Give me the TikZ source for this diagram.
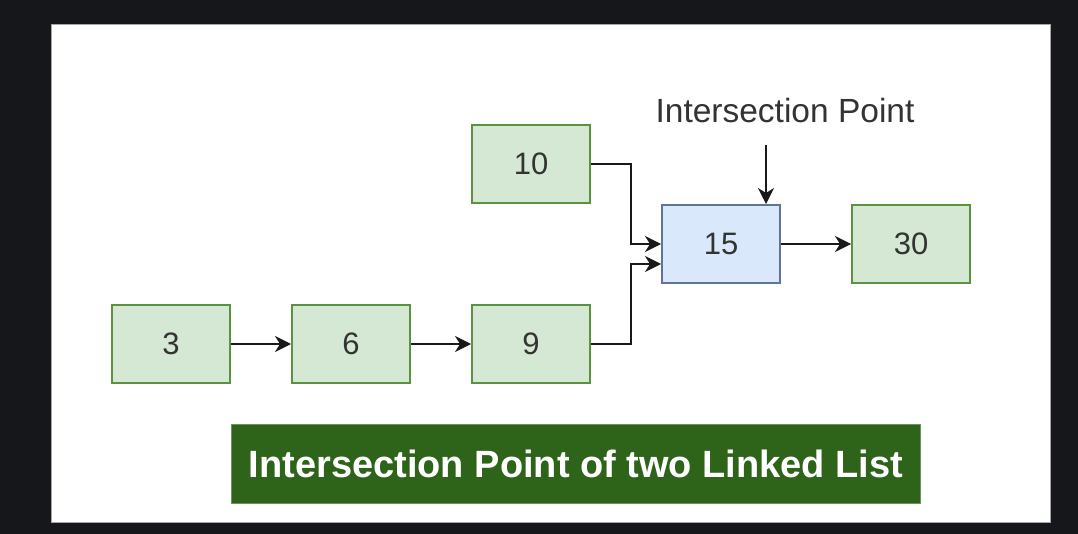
\documentclass[tikz,border=0pt]{standalone}
\usepackage{fontspec}
\setmainfont{Liberation Sans}
\usetikzlibrary{arrows.meta}
\definecolor{bgdark}{HTML}{16171B}
\definecolor{gfill}{HTML}{D5E8D4}
\definecolor{gline}{HTML}{5A923F}
\definecolor{bfill}{HTML}{DAE8FC}
\definecolor{bline}{HTML}{5F7598}
\definecolor{tgreen}{HTML}{2D6419}
\definecolor{txt}{HTML}{333333}
\tikzset{
  box/.style={draw=gline, fill=gfill, line width=2pt, minimum width=118pt, minimum height=78pt, inner sep=0pt, text=txt, font=\fontsize{31}{36}\selectfont},
  bluebox/.style={box, draw=bline, fill=bfill},
  arr/.style={draw=black!90, line width=2pt, -{Stealth[length=16pt, width=16pt, inset=5pt]}},
  titlebox/.style={draw=tgreen!70!white, fill=tgreen, line width=1pt, minimum width=689pt, minimum height=79pt, inner sep=0pt, text=white, font=\fontsize{38}{44}\selectfont\bfseries},
}
\begin{document}
\begin{tikzpicture}[x=1pt, y=-1pt]
\useasboundingbox (0,0) rectangle (1078,534);
\fill[bgdark] (0,0) rectangle (1078,534);
\draw[fill=white, draw=gray!70, line width=1pt] (51.5,24.5) rectangle (1050,522);
\node[box] (n10) at (531,164) {10};
\node[bluebox] (n15) at (721,244) {15};
\node[box] (n30) at (911,244) {30};
\node[box] (n3) at (171,344) {3};
\node[box] (n6) at (351,344) {6};
\node[box] (n9) at (531,344) {9};
\node[text=txt, font=\fontsize{33.5}{38}\selectfont, inner sep=0pt] (lbl) at (785,111) {Intersection Point};
\coordinate (ptop) at (766,145);
\draw[arr] (n3) -- (n6);
\draw[arr] (n6) -- (n9);
\draw[arr] (n15) -- (n30);
\draw[arr] (n10.east) -- ++(40,0) |- ([yshift=0pt]n15.west);
\draw[arr] (n9.east) -- ++(40,0) |- ([yshift=-20pt]n15.west);
\draw[arr] (ptop) -- (ptop |- n15.north);
\node[titlebox] (ttl) at (576,464) {Intersection Point of two Linked List};
\end{tikzpicture}
\end{document}
